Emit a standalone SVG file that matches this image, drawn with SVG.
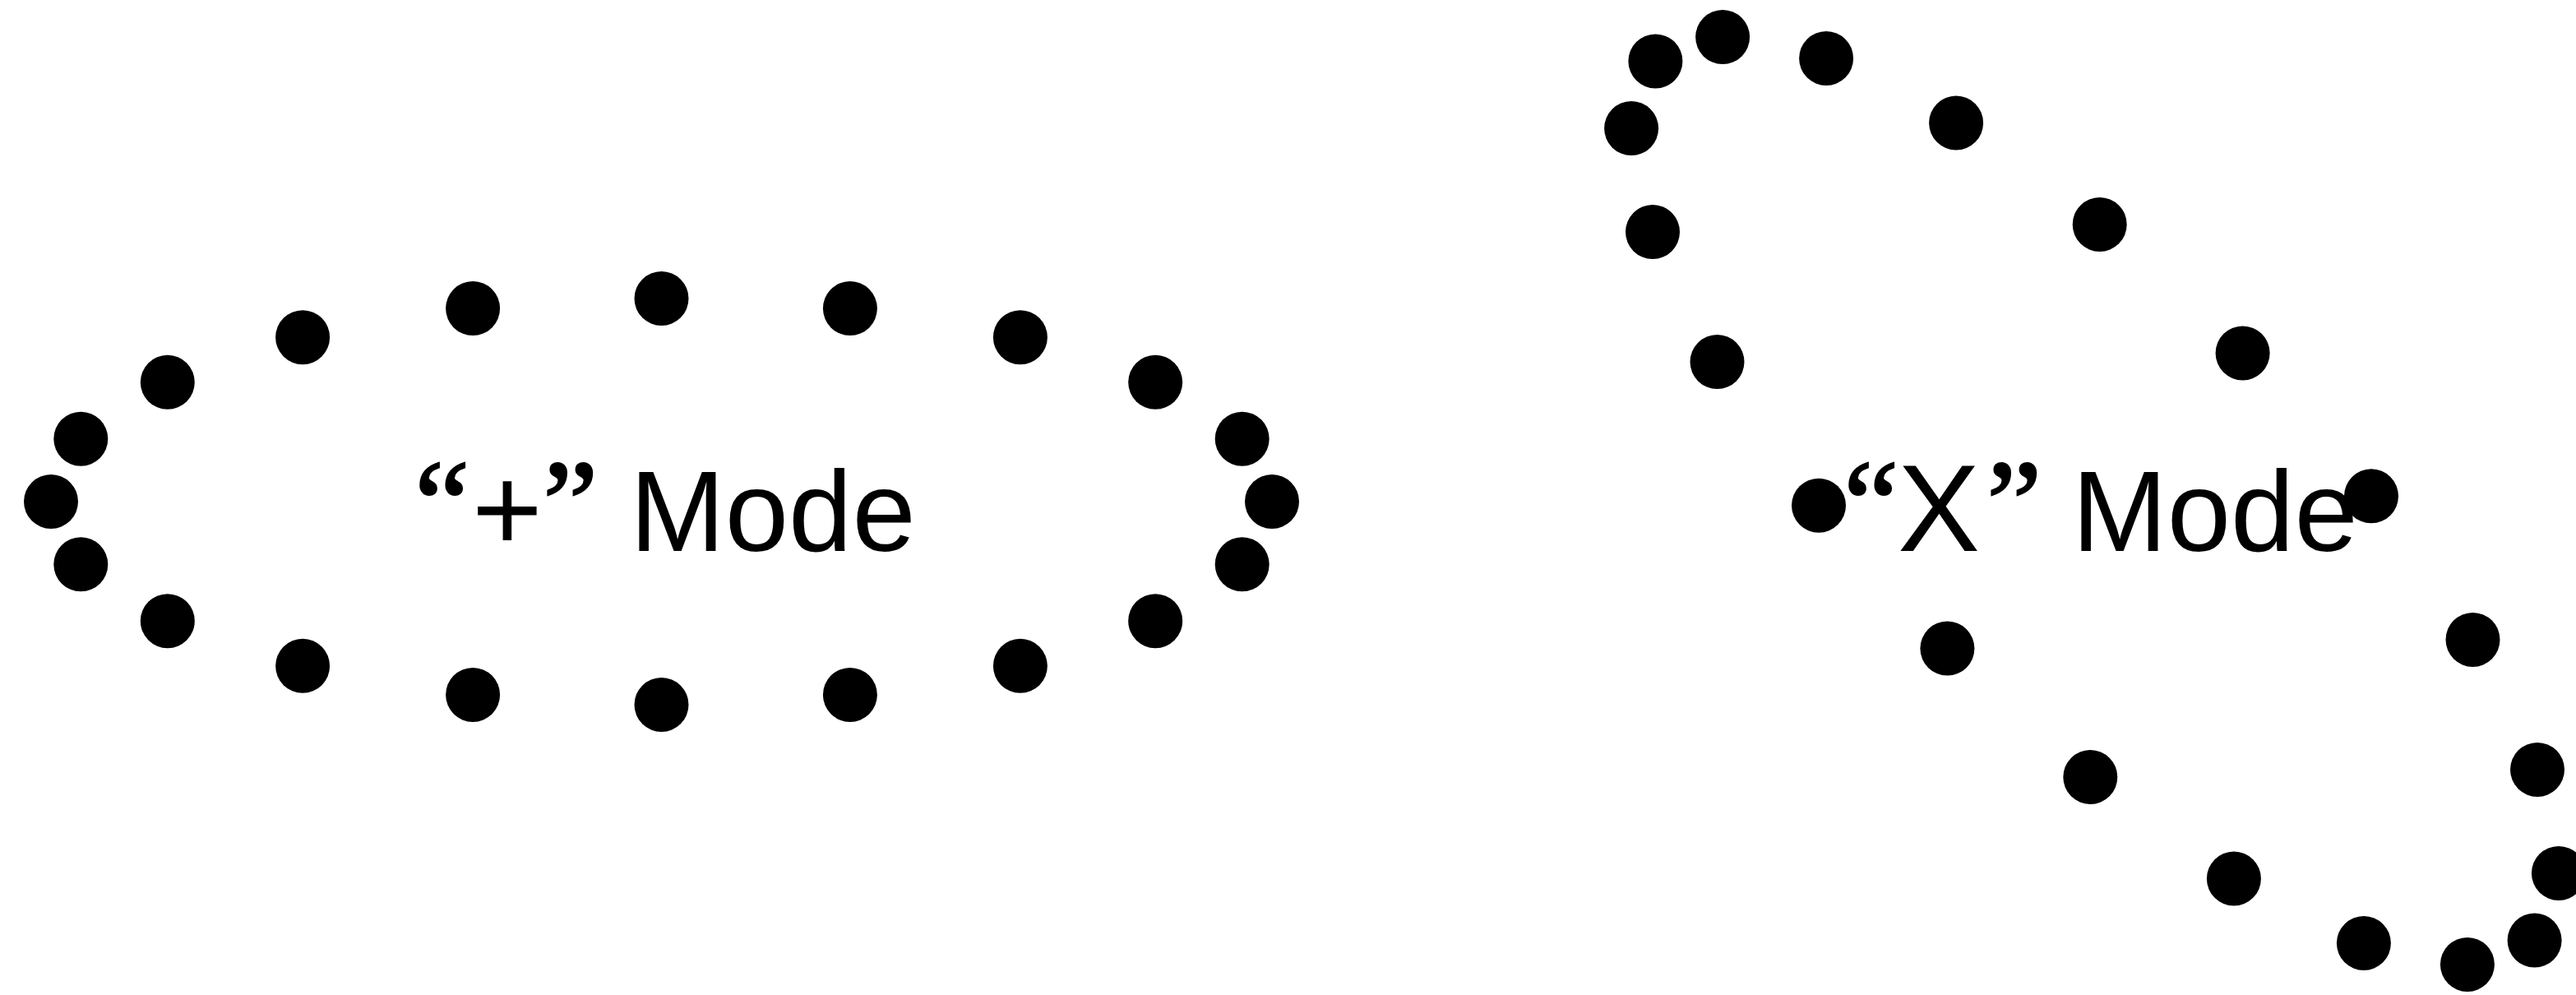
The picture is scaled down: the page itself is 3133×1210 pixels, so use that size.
<svg xmlns="http://www.w3.org/2000/svg" width="3133" height="1210" viewBox="0 0 3133 1210">
<style>
.dot{fill:#000}
.lbl{font-family:"Liberation Sans",Arial,sans-serif;font-size:139px;fill:#000}
.q{font-family:"Liberation Serif","Times New Roman",serif;font-size:152px;stroke:#000;stroke-width:2}
.s{font-size:147px}
.xl{font-size:150px}
</style>
<rect width="3133" height="1210" fill="#fff"/>
<g id="plus-mode">
<circle class="dot" cx="1547" cy="610" r="33"/>
<circle class="dot" cx="1510.7" cy="686.3" r="33"/>
<circle class="dot" cx="1405.2" cy="755.2" r="33"/>
<circle class="dot" cx="1240.9" cy="809.8" r="33"/>
<circle class="dot" cx="1033.9" cy="844.9" r="33"/>
<circle class="dot" cx="804.5" cy="857" r="33"/>
<circle class="dot" cx="575.1" cy="844.9" r="33"/>
<circle class="dot" cx="368.1" cy="809.8" r="33"/>
<circle class="dot" cx="203.8" cy="755.2" r="33"/>
<circle class="dot" cx="98.3" cy="686.3" r="33"/>
<circle class="dot" cx="62" cy="610" r="33"/>
<circle class="dot" cx="98.3" cy="533.7" r="33"/>
<circle class="dot" cx="203.8" cy="464.8" r="33"/>
<circle class="dot" cx="368.1" cy="410.2" r="33"/>
<circle class="dot" cx="575.1" cy="375.1" r="33"/>
<circle class="dot" cx="804.5" cy="363" r="33"/>
<circle class="dot" cx="1033.9" cy="375.1" r="33"/>
<circle class="dot" cx="1240.9" cy="410.2" r="33"/>
<circle class="dot" cx="1405.2" cy="464.8" r="33"/>
<circle class="dot" cx="1510.7" cy="533.7" r="33"/>
<text class="lbl" y="670"><tspan class="q" x="504" y="665">“</tspan><tspan class="s" x="574" y="670">+</tspan><tspan class="q" x="660" y="665">” </tspan><tspan x="766" y="670">Mode</tspan></text>
</g>
<g id="x-mode">
<circle class="dot" cx="3082.6" cy="1143.6" r="33"/>
<circle class="dot" cx="3000.9" cy="1172.9" r="33"/>
<circle class="dot" cx="2874.9" cy="1147" r="33"/>
<circle class="dot" cx="2716.9" cy="1068.5" r="33"/>
<circle class="dot" cx="2542.3" cy="945" r="33"/>
<circle class="dot" cx="2368.4" cy="788.6" r="33"/>
<circle class="dot" cx="2212" cy="614.7" r="33"/>
<circle class="dot" cx="2088.5" cy="440.1" r="33"/>
<circle class="dot" cx="2010" cy="282.1" r="33"/>
<circle class="dot" cx="1984.1" cy="156.1" r="33"/>
<circle class="dot" cx="2013.4" cy="74.4" r="33"/>
<circle class="dot" cx="2095.1" cy="45.1" r="33"/>
<circle class="dot" cx="2221.1" cy="71" r="33"/>
<circle class="dot" cx="2379.1" cy="149.5" r="33"/>
<circle class="dot" cx="2553.7" cy="273" r="33"/>
<circle class="dot" cx="2727.6" cy="429.4" r="33"/>
<circle class="dot" cx="2884" cy="603.3" r="33"/>
<circle class="dot" cx="3007.5" cy="777.9" r="33"/>
<circle class="dot" cx="3086" cy="935.9" r="33"/>
<circle class="dot" cx="3111.9" cy="1061.9" r="33"/>
<text class="lbl" y="670"><tspan class="q" x="2242" y="665">“</tspan><tspan class="xl" x="2308" y="670">X</tspan><tspan class="q" x="2416" y="665">” </tspan><tspan x="2520" y="670">Mode</tspan></text>
</g>
</svg>
